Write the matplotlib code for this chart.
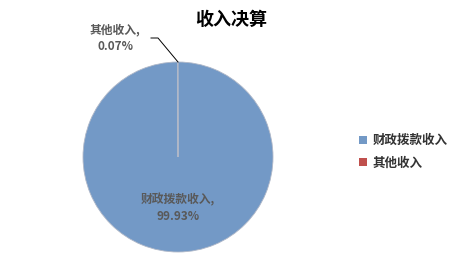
import matplotlib
matplotlib.use("Agg")
import matplotlib.pyplot as plt
from matplotlib.patches import Patch

plt.rcParams['font.family'] = ['Noto Sans CJK SC', 'DejaVu Sans']

categories = ["财政拨款收入", "其他收入"]
values = [99.93, 0.07]
colors = ["#7399C6", "#C0504D"]
title = "收入决算"

W, H = 465, 280
fig = plt.figure(figsize=(W / 100, H / 100), dpi=100)
ax = fig.add_axes([0, 0, 1, 1])

cx, cy, r = 178, H - 157, 95
wedges, _ = ax.pie(values, colors=colors, startangle=90, counterclock=False,
                   center=(cx, cy), radius=r, frame=True,
                   wedgeprops=dict(linewidth=0.6, edgecolor="#B0B8C8"))
ax.set_xlim(0, W)
ax.set_ylim(0, H)
ax.set_aspect('equal')
ax.axis('off')

lab_color = "#595959"
ax.text(cx, H - 208, f"{categories[0]},\n{values[0]:.2f}%", ha='center', va='center',
        fontsize=8.5, fontweight='bold', color=lab_color, linespacing=1.3)
ax.text(115, H - 38, f"{categories[1]},\n{values[1]:.2f}%", ha='center', va='center',
        fontsize=8.5, fontweight='bold', color=lab_color, linespacing=1.3)
ax.plot([151, 158, cx], [H - 38, H - 38, H - 62], color="black", lw=0.7)

ax.text(231, H - 19, title, ha='center', va='center', fontsize=13, fontweight='bold', color='black')

handles = [Patch(facecolor=c, edgecolor='none') for c in colors]
leg = fig.legend(handles, categories, loc='center left', bbox_to_anchor=(353 / W, 1 - 152 / H),
                 frameon=False, fontsize=9, handlelength=0.65, handleheight=0.65,
                 handletextpad=0.4, labelspacing=0.75, borderpad=0)
for t in leg.get_texts():
    t.set_fontweight('bold')
    t.set_color('#333333')

fig.savefig("out.png", dpi=100)
